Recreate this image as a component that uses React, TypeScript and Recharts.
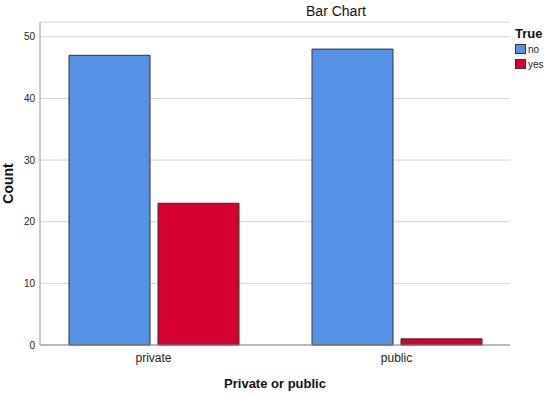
import { BarChart, Bar, XAxis, YAxis, CartesianGrid, Legend, Label } from 'recharts';

const categories = ['private', 'public'];
const noCounts = [47, 48];
const yesCounts = [23, 1];
const yTicks = [0, 10, 20, 30, 40, 50];

const data = categories.map((c, i) => ({ type: c, no: noCounts[i], yes: yesCounts[i] }));

const font = '"Liberation Sans", Arial, sans-serif';

function LegendBox({ payload }: any) {
  return (
    <div style={{ fontFamily: font, whiteSpace: 'nowrap', width: 40 }}>
      <div style={{ fontSize: 13, fontWeight: 'bold', color: '#111', lineHeight: '15px' }}>True</div>
      {(payload || []).map((p: any) => (
        <div key={p.value} style={{ display: 'flex', alignItems: 'center', height: 14, marginTop: 1 }}>
          <span style={{ flex: '0 0 auto', boxSizing: 'border-box', width: 11, height: 10, background: p.color, border: '1px solid #333', marginRight: 2 }} />
          <span style={{ fontSize: 10, color: '#222' }}>{p.value}</span>
        </div>
      ))}
    </div>
  );
}

export default function App() {
  return (
    <div style={{ position: 'absolute', left: 0, top: 0, width: 550, height: 395, background: '#fff' }}>
      <div style={{ position: 'absolute', left: 0, width: 672, top: 3, textAlign: 'center', fontFamily: font, fontSize: 14, color: '#111' }}>
        Bar Chart
      </div>
      <BarChart width={550} height={395} data={data} margin={{ top: 22, right: 40, left: 10, bottom: 0 }} barGap={8} barSize={81}>
        <CartesianGrid vertical={false} stroke="#d4d4d4" />
        <XAxis
          dataKey="type"
          height={50}
          padding={{ left: -8, right: -8 }}
          tickLine={false}
          axisLine={{ stroke: '#888' }}
          tick={{ fontSize: 12, fill: '#222', fontFamily: font }}
        >
          <Label value="Private or public" position="insideBottom" offset={7} style={{ fontSize: 13, fontWeight: 'bold', fill: '#111', fontFamily: font }} />
        </XAxis>
        <YAxis
          width={30}
          domain={[0, 52.4]}
          ticks={yTicks}
          tickLine={false}
          tickSize={3}
          tickMargin={2}
          axisLine={{ stroke: '#999' }}
          tick={{ fontSize: 10, fill: '#222', fontFamily: font }}
        >
          <Label
            content={({ viewBox }: any) => (
              <text
                x={13}
                y={viewBox.y + viewBox.height / 2}
                transform={`rotate(-90, 13, ${viewBox.y + viewBox.height / 2})`}
                textAnchor="middle"
                style={{ fontSize: 14, fontWeight: 'bold', fill: '#111', fontFamily: font }}
              >
                Count
              </text>
            )}
          />
        </YAxis>
        <Legend
          content={<LegendBox />}
          wrapperStyle={{ position: 'absolute', left: 515, top: 26, width: 0, height: 0, overflow: 'visible' }}
        />
        <Bar dataKey="no" name="no" fill="#5593e6" stroke="#333" strokeWidth={1} isAnimationActive={false} />
        <Bar dataKey="yes" name="yes" fill="#d5002e" stroke="#333" strokeWidth={1} isAnimationActive={false} />
      </BarChart>
    </div>
  );
}
